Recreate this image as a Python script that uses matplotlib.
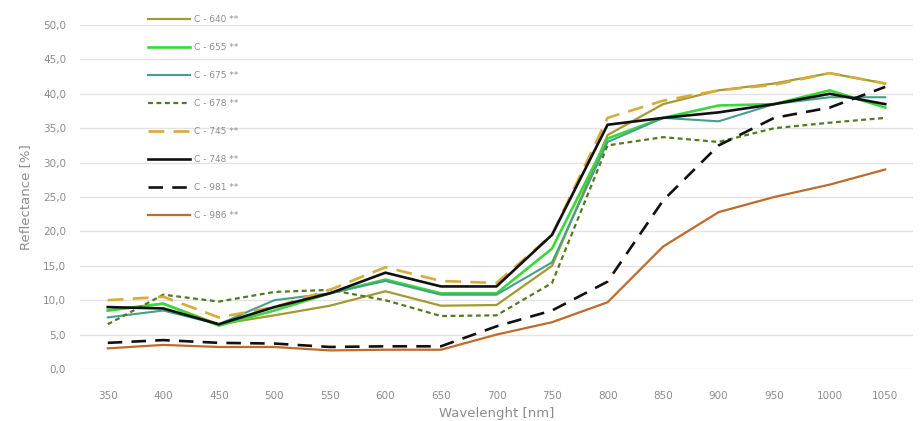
import numpy as np
import matplotlib
matplotlib.use('Agg')
import matplotlib.pyplot as plt
from matplotlib.ticker import FuncFormatter

# données
wavelengths = ['350', '400', '450', '500', '550', '600', '650', '700',
               '750', '800', '850', '900', '950', '1000', '1050']

c640 = [8.5, 9.5, 6.5, 7.8, 9.2, 11.3, 9.2, 9.3, 15.0, 34.0, 38.5, 40.5, 41.5, 43.0, 41.5]
c655 = [8.5, 9.5, 6.3, 8.5, 11.0, 13.0, 11.0, 11.0, 17.5, 33.5, 36.5, 38.3, 38.5, 40.5, 38.0]
c675 = [7.5, 8.5, 6.5, 10.0, 11.0, 12.8, 10.8, 10.8, 15.5, 33.0, 36.5, 36.0, 38.5, 39.5, 39.5]
c678 = [6.5, 10.8, 9.8, 11.2, 11.5, 10.0, 7.7, 7.8, 12.5, 32.5, 33.7, 33.0, 35.0, 35.8, 36.5]
c745 = [10.0, 10.5, 7.5, 9.0, 11.5, 14.8, 12.8, 12.5, 19.5, 36.5, 39.0, 40.5, 41.3, 43.0, 41.5]
c748 = [9.0, 8.8, 6.5, 9.0, 11.0, 14.0, 12.0, 12.0, 19.5, 35.5, 36.5, 37.3, 38.5, 40.0, 38.5]
c981 = [3.8, 4.2, 3.8, 3.7, 3.2, 3.3, 3.3, 6.2, 8.5, 12.7, 24.5, 32.5, 36.5, 38.0, 41.0]
c986 = [3.0, 3.5, 3.2, 3.2, 2.7, 2.8, 2.8, 5.0, 6.8, 9.7, 17.8, 22.8, 25.0, 26.8, 29.0]

labels = ['C - 640 **', 'C - 655 **', 'C - 675 **', 'C - 678 **',
          'C - 745 **', 'C - 748 **', 'C - 981 **', 'C - 986 **']

gris = '#8c8c8c'

fig = plt.figure(figsize=(9.23, 4.21), dpi=100)
ax = fig.add_axes([80 / 923, 1 - 369 / 421, 833 / 923, 344 / 421])

x = np.arange(len(wavelengths))

ax.plot(x, c640, color='#a39b2f', lw=1.6, label=labels[0])
ax.plot(x, c655, color='#3ad83a', lw=1.9, label=labels[1])
ax.plot(x, c675, color='#45a088', lw=1.5, label=labels[2])
ax.plot(x, c678, color='#55791f', lw=1.6, ls=(0, (2.2, 1.6)), label=labels[3])
ax.plot(x, c745, color='#d8ac3a', lw=1.9, ls=(0, (6, 3.5)), label=labels[4])
ax.plot(x, c748, color='#111111', lw=1.9, label=labels[5])
ax.plot(x, c981, color='#111111', lw=1.9, ls=(0, (5.5, 3.5)), label=labels[6])
ax.plot(x, c986, color='#c06a2c', lw=1.6, label=labels[7])

ax.set_xlim(-0.5, len(wavelengths) - 0.5)
ax.set_ylim(0, 50)
ax.set_xticks(x)
ax.set_xticklabels(wavelengths)
ax.set_yticks(np.arange(0, 51, 5))
ax.yaxis.set_major_formatter(FuncFormatter(lambda v, p: f'{v:.1f}'.replace('.', ',')))
ax.tick_params(axis='both', length=0, colors=gris, labelsize=7.5)
ax.tick_params(axis='x', pad=16)
ax.tick_params(axis='y', pad=10)
for s in ax.spines.values():
    s.set_visible(False)
ax.grid(axis='y', color='#e3e3e3', lw=1)
ax.set_axisbelow(True)

ax.set_xlabel('Wavelenght [nm]', color=gris, fontsize=9.5, labelpad=4)
ax.set_ylabel('Reflectance [%]', color=gris, fontsize=9.5, labelpad=8)

fig.legend(loc='upper left', bbox_to_anchor=(140 / 923, 1 - 7 / 421),
           frameon=False, fontsize=6.5, labelcolor=gris,
           handlelength=4.6, labelspacing=2.1, handletextpad=0.5)

plt.savefig('out.png', dpi=100)
